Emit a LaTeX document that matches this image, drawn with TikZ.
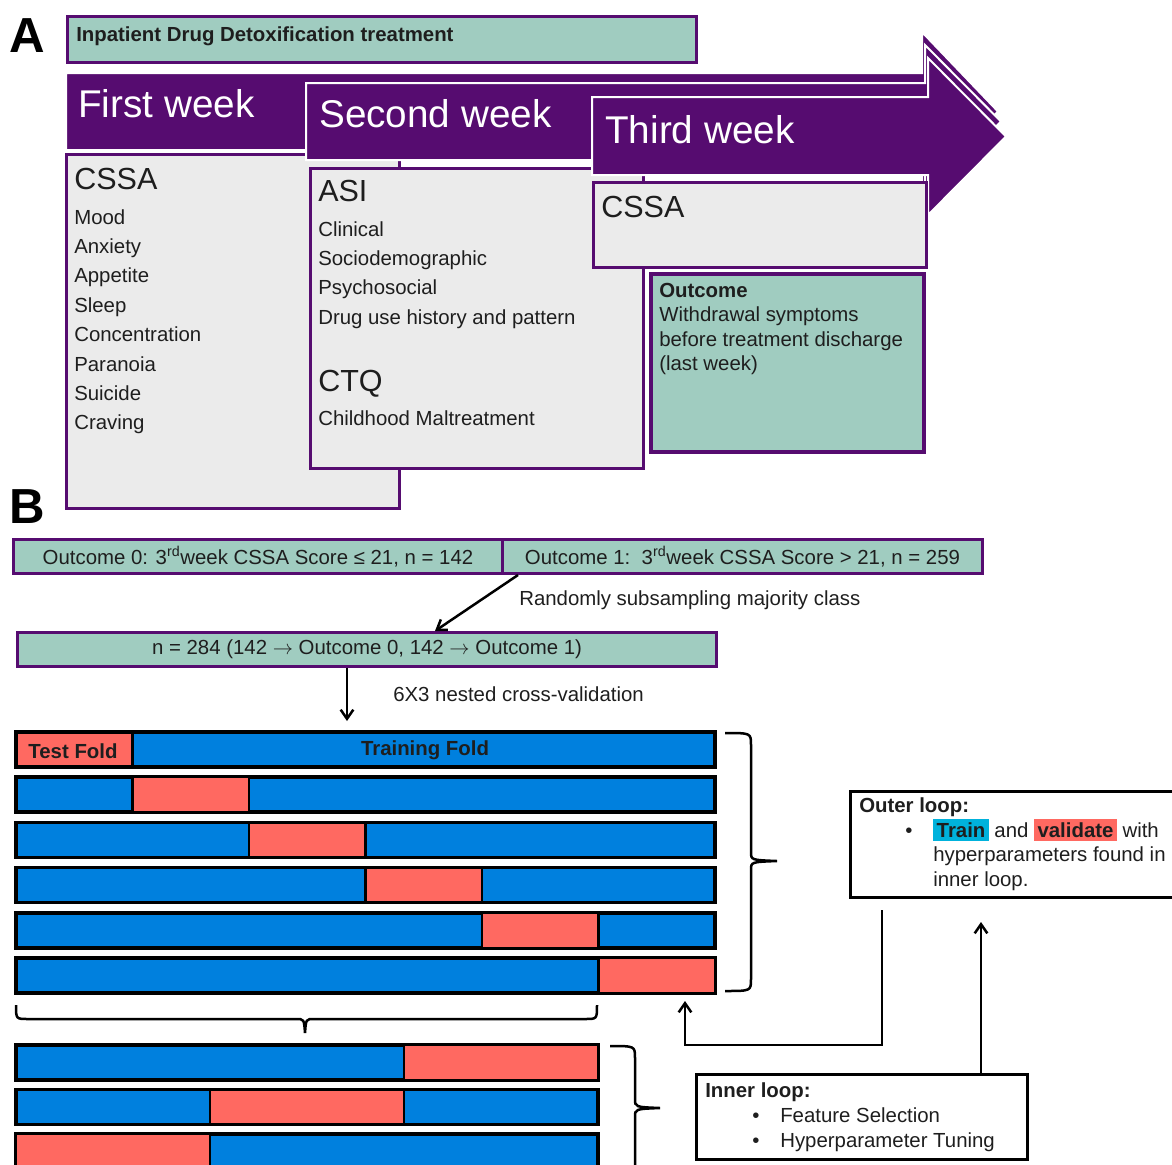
\documentclass[tikz,border=0pt]{standalone}
\usepackage{fontspec}
\setmainfont{Liberation Sans}
\usetikzlibrary{positioning, arrows.meta}

\definecolor{wkpurple}{RGB}{86,12,112}
\definecolor{boxteal}{RGB}{160,204,192}
\definecolor{boxgray}{RGB}{235,235,235}
\definecolor{foldblue}{RGB}{0,128,222}
\definecolor{foldred}{RGB}{255,105,97}
\definecolor{hlcyan}{RGB}{0,178,220}
\definecolor{txtdark}{RGB}{30,30,30}

\newlength\px
\setlength\px{0.025cm}
\newcommand\itemfont{\fontsize{14.5}{17}\selectfont}
\newcommand\headfont{\fontsize{21.7}{26}\selectfont}
\newcommand\weekfont{\fontsize{27.5}{32}\selectfont}
\newcommand\panelfont{\fontsize{35}{40}\selectfont\bfseries}
\newcommand\hlword[2]{{\setlength\fboxsep{0pt}\colorbox{#1}{\rule[-2.8pt]{0pt}{15.6pt}\,\bfseries #2\,}}}
\newcommand\toarrow{ $\rightarrow$ }

\begin{document}
\begin{tikzpicture}[x=1\px, y=-1\px,
		weekarrow/.style={fill=wkpurple, draw=white, line width=2\px},
		graybox/.style={draw=wkpurple, fill=boxgray, line width=2.5\px, anchor=north west, inner sep=0pt},
		tealbox/.style={draw=wkpurple, fill=boxteal, line width=3\px, inner sep=0pt, font=\itemfont, text=txtdark},
		txt/.style={anchor=base west, inner sep=0pt, font=\itemfont, text=txtdark},
		weektxt/.style={txt, font=\weekfont, text=white},
		headtxt/.style={txt, font=\headfont},
		foldrow/.style={draw=black, line width=3.5\px, fill=foldblue},
		testseg/.style={draw=black, line width=2.5\px, fill=foldred},
		foldtxt/.style={inner sep=0pt, font=\itemfont\bfseries, text=txtdark},
		loopbox/.style={draw=black, line width=3\px, fill=white, anchor=north west, inner sep=0pt},
		conn/.style={draw=black, line width=2.5\px, -{Straight Barb[length=6.5pt, width=9pt]}},
		bracepath/.style={draw=black, line width=2.5\px, line join=miter}]

	\useasboundingbox (0,0) rectangle (1172,1165);
	\clip (0,0) rectangle (1172,1165);

	% A: treatment weeks
	\node[txt, font=\panelfont, text=black] (lblA) at (9,52) {A};
	\node[tealbox, anchor=north west, minimum width=629\px, minimum height=46\px] (title) at (66,15) {};
	\node[txt, font=\itemfont\bfseries] (titletxt) at (76,41) {Inpatient Drug Detoxification treatment};

	\draw[weekarrow] (66,73) -- (922,73) -- (922,32) -- (998,111.5) -- (922,191) -- (922,150) -- (66,150) -- cycle;
	\node[weektxt] (wk1lab) at (78,117) {First week};
	\node[graybox, minimum width=333\px, minimum height=354\px] (wk1box) at (65,153) {};
	\node[headtxt] (cssa1) at (74,189) {CSSA};
	\foreach \t [count=\i from 0] in {Mood, Anxiety, Appetite, Sleep, Concentration, Paranoia, Suicide, Craving}
		\node[txt] (wk1item\i) at (74,224+29.4*\i) {\t};

	\draw[weekarrow] (306,83) -- (925,83) -- (925,45) -- (1001,121.5) -- (925,198) -- (925,160) -- (306,160) -- cycle;
	\node[weektxt] (wk2lab) at (319,127) {Second week};
	\node[graybox, minimum width=333\px, minimum height=300\px] (wk2box) at (309,167) {};
	\node[headtxt] (asi) at (318,201) {ASI};
	\foreach \t [count=\i from 0] in {Clinical, Sociodemographic, Psychosocial, Drug use history and pattern}
		\node[txt] (wk2item\i) at (318,236+29.4*\i) {\t};
	\node[headtxt] (ctq) at (318,391) {CTQ};
	\node[txt] (ctqitem) at (318,425) {Childhood Maltreatment};

	\draw[weekarrow] (592,97) -- (928,97) -- (928,58) -- (1006,136.5) -- (928,215) -- (928,175) -- (592,175) -- cycle;
	\node[weektxt] (wk3lab) at (605,143) {Third week};
	\node[graybox, minimum width=333\px, minimum height=85\px] (wk3box) at (592,181) {};
	\node[headtxt] (cssa3) at (601,217) {CSSA};

	\node[tealbox, line width=4\px, anchor=north west, minimum width=273\px, minimum height=178\px] (outcome) at (649,272) {};
	\node[txt, font=\itemfont\bfseries] (outhead) at (659,297) {Outcome};
	\foreach \t [count=\i from 1] in {Withdrawal symptoms, before treatment discharge, (last week)}
		\node[txt] (outline\i) at (659,297+24.5*\i) {\t};

	% B: nested cross-validation
	\node[txt, font=\panelfont, text=black] (lblB) at (9,523) {B};
	\node[tealbox, anchor=north west, minimum width=489\px, minimum height=34\px] (out0) at (12,538)
		{Outcome 0: 3\textsuperscript{rd}week CSSA Score ≤ 21, n = 142};
	\node[tealbox, anchor=north west, minimum width=480\px, minimum height=34\px] (out1) at (501,538)
		{Outcome 1:\ \ 3\textsuperscript{rd}week CSSA Score > 21, n = 259};
	\node[tealbox, anchor=north west, minimum width=699\px, minimum height=34\px] (n284) at (16,631)
		{n = 284 (142\toarrow Outcome 0, 142\toarrow Outcome 1)};
	\node[txt] (subsample) at (519,605) {Randomly subsampling majority class};
	\node[txt] (nestedcv) at (393,701) {6X3 nested cross-validation};

	\draw[conn] ([xshift=17\px]out1.south west) -- ([xshift=68\px]n284.north);
	\coordinate (foldtop) at (347,721);
	\draw[conn] (n284.south -| foldtop) -- (foldtop);

	\foreach \r in {0,...,5} {
		\draw[foldrow] (16,732+45.2*\r) rectangle (715,767+45.2*\r);
		\draw[testseg] (16+116.5*\r,732+45.2*\r) rectangle (132.5+116.5*\r,767+45.2*\r);
	}
	\draw[foldrow, fill=none] (16,732) rectangle (715,767);
	\node[foldtxt] (testfold) at (73,751) {Test Fold};
	\node[foldtxt] (trainfold) at (425,750) {Training Fold};

	\foreach \r in {0,1,2} {
		\draw[foldrow] (16,1045+44.5*\r) rectangle (598,1080+44.5*\r);
		\draw[testseg] (404-194*\r,1045+44.5*\r) rectangle (598-194*\r,1080+44.5*\r);
	}

	% braces
	\draw[bracepath] (725,733) .. controls (751,733) .. (751,745) -- (751,852)
		.. controls (751,860) .. (777,861) .. controls (751,862) .. (751,870) -- (751,979)
		.. controls (751,991) .. (725,991);
	\draw[bracepath] (16,1005) .. controls (16,1019) .. (28,1019) -- (296,1019)
		.. controls (304,1019) .. (305,1033) .. controls (306,1019) .. (314,1019) -- (585,1019)
		.. controls (597,1019) .. (597,1005);
	\draw[bracepath] (610,1046) .. controls (635,1046) .. (635,1058) -- (635,1099)
		.. controls (635,1107) .. (660,1108) .. controls (635,1109) .. (635,1117) -- (635,1170);

	\node[loopbox, minimum width=345\px, minimum height=106\px] (outerbox) at (849,790) {};
	\node[txt, font=\itemfont\bfseries] (outerhead) at (859,812) {Outer loop:};
	\node[txt] (outerbul) at (905,837) {•};
	\node[txt] (outerl1) at (933,837) {\hlword{hlcyan}{Train} and \hlword{foldred}{validate} with};
	\node[txt] (outerl2) at (933,861) {hyperparameters found in};
	\node[txt] (outerl3) at (933,886) {inner loop.};

	\node[loopbox, minimum width=331\px, minimum height=85\px] (innerbox) at (695,1073) {};
	\node[txt, font=\itemfont\bfseries] (innerhead) at (705,1097) {Inner loop:};
	\node[txt] (innerbul1) at (752,1122) {•};
	\node[txt] (inneritem1) at (780,1122) {Feature Selection};
	\node[txt] (innerbul2) at (752,1147) {•};
	\node[txt] (inneritem2) at (780,1147) {Hyperparameter Tuning};

	\coordinate (obstart) at (882,910);
	\coordinate (obcorner) at (882,1045);
	\coordinate (obend) at (685,1001);
	\draw[conn] (obstart) -- (obcorner) -| (obend);
	\coordinate (ibend) at (981,922);
	\draw[conn] (innerbox.north -| ibend) -- (ibend);
\end{tikzpicture}
\end{document}
